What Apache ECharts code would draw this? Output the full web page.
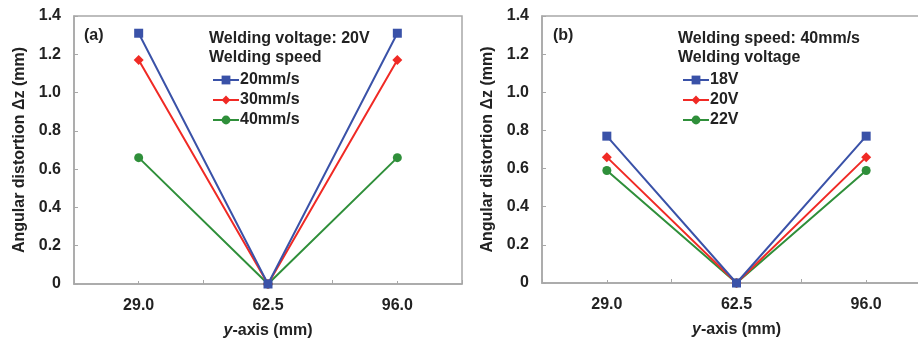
<!DOCTYPE html>
<html>
<head>
<meta charset="utf-8">
<script src="https://cdn.jsdelivr.net/npm/echarts@6/dist/echarts.min.js"></script>
<style>html,body{margin:0;padding:0;background:#fff;overflow:hidden}#c{width:940px;height:338px}</style>
</head>
<body>
<div id="c"></div>
<script>
const categories = ['29.0', '62.5', '96.0'];
const yTicks = [0, 0.2, 0.4, 0.6, 0.8, 1.0, 1.2, 1.4];

const namesA = ['20mm/s', '30mm/s', '40mm/s'];
const speed20 = [1.31, 0, 1.31];
const speed30 = [1.17, 0, 1.17];
const speed40 = [0.66, 0, 0.66];

const namesB = ['18V', '20V', '22V'];
const volt18 = [0.77, 0, 0.77];
const volt20 = [0.66, 0, 0.66];
const volt22 = [0.59, 0, 0.59];

const colors = ['#3a52a8', '#f02a25', '#2f8f3a'];
const symbols = ['rect', 'diamond', 'circle'];
const symbolSizes = [9, 10, 9];

const FONT = 'Liberation Sans, Arial, sans-serif';
const FS = 16;
const axisGray = '#a8a8a8';

function yAxis(gi) {
  return {
    type: 'value', gridIndex: gi, min: 0, max: 1.4, interval: 0.2,
    name: 'Angular distortion \u0394z (mm)', nameLocation: 'middle', nameGap: 46,
    nameTextStyle: { fontFamily: FONT, fontWeight: 'bold', fontSize: FS, color: '#222' },
    axisLine: { show: true, lineStyle: { color: axisGray, width: 1.5 } },
    axisTick: { show: true, inside: true, length: 4, lineStyle: { color: axisGray } },
    splitLine: { show: false },
    axisLabel: {
      fontFamily: FONT, fontWeight: 'bold', fontSize: FS, color: '#222', margin: 13,
      formatter: v => { const t = yTicks.find(x => Math.abs(x - v) < 1e-9); return t === 0 ? '0' : (t !== undefined ? t.toFixed(1) : ''); }
    }
  };
}
function xAxis(gi) {
  return {
    type: 'category', gridIndex: gi, data: categories, boundaryGap: true,
    name: '{i|y}-axis (mm)', nameLocation: 'middle', nameGap: 39,
    nameTextStyle: { fontFamily: FONT, fontWeight: 'bold', fontSize: FS, color: '#222',
      rich: { i: { fontFamily: FONT, fontWeight: 'bold', fontStyle: 'italic', fontSize: FS, color: '#222' } } },
    axisLine: { show: true, lineStyle: { color: axisGray, width: 1.5 } },
    axisTick: { show: true, inside: true, length: 4, lineStyle: { color: axisGray } },
    axisLabel: { fontFamily: FONT, fontWeight: 'bold', fontSize: FS, color: '#222', margin: 14 }
  };
}
function xAxisMid(gi) {
  return {
    type: 'category', gridIndex: gi, data: categories, boundaryGap: true, position: 'bottom',
    axisLine: { show: false },
    axisTick: { show: true, inside: true, alignWithLabel: true, length: 3, lineStyle: { color: axisGray } },
    axisLabel: { show: false }, splitLine: { show: false }
  };
}
function series(name, data, i, gi) {
  return {
    type: 'line', name: name, data: data, xAxisIndex: gi, yAxisIndex: gi,
    symbol: symbols[i], symbolSize: symbolSizes[i], showSymbol: true,
    itemStyle: { color: colors[i] }, lineStyle: { color: colors[i], width: 2 },
    z: 10 - i, animation: false
  };
}
function legend(names, left) {
  return {
    data: names, orient: 'vertical', left: left, top: 72, itemGap: 4,
    itemWidth: 26, itemHeight: 11, padding: 0,
    textStyle: { fontFamily: FONT, fontWeight: 'bold', fontSize: FS, color: '#222', padding: [0, 0, 0, -4] },
    selectedMode: false
  };
}

const chart = echarts.init(document.getElementById('c'), null, { renderer: 'canvas' });
chart.setOption({
  animation: false,
  grid: [
    { left: 74, top: 16, width: 388, height: 268, outerBoundsMode: 'none', containLabel: false, show: true, borderColor: axisGray, borderWidth: 1.5, backgroundColor: 'transparent' },
    { left: 542, top: 16, width: 389, height: 267, outerBoundsMode: 'none', containLabel: false, show: true, borderColor: axisGray, borderWidth: 1.5, backgroundColor: 'transparent' }
  ],
  xAxis: [xAxis(0), xAxis(1), xAxisMid(0), xAxisMid(1)],
  yAxis: [yAxis(0), yAxis(1)],
  legend: [legend(namesA, 212), legend(namesB, 682)],
  series: [
    series(namesA[0], speed20, 0, 0), series(namesA[1], speed30, 1, 0), series(namesA[2], speed40, 2, 0),
    series(namesB[0], volt18, 0, 1), series(namesB[1], volt20, 1, 1), series(namesB[2], volt22, 2, 1)
  ],
  graphic: [
    { type: 'text', left: 84, top: 28, style: { text: '(a)', font: 'bold 16px ' + FONT, fill: '#222' } },
    { type: 'text', left: 209, top: 29, style: { text: 'Welding voltage: 20V\nWelding speed', font: 'bold 16px ' + FONT, fill: '#222', lineHeight: 19 } },
    { type: 'text', left: 553, top: 28, style: { text: '(b)', font: 'bold 16px ' + FONT, fill: '#222' } },
    { type: 'text', left: 678, top: 29, style: { text: 'Welding speed: 40mm/s\nWelding voltage', font: 'bold 16px ' + FONT, fill: '#222', lineHeight: 19 } }
  ]
});
</script>
</body>
</html>
